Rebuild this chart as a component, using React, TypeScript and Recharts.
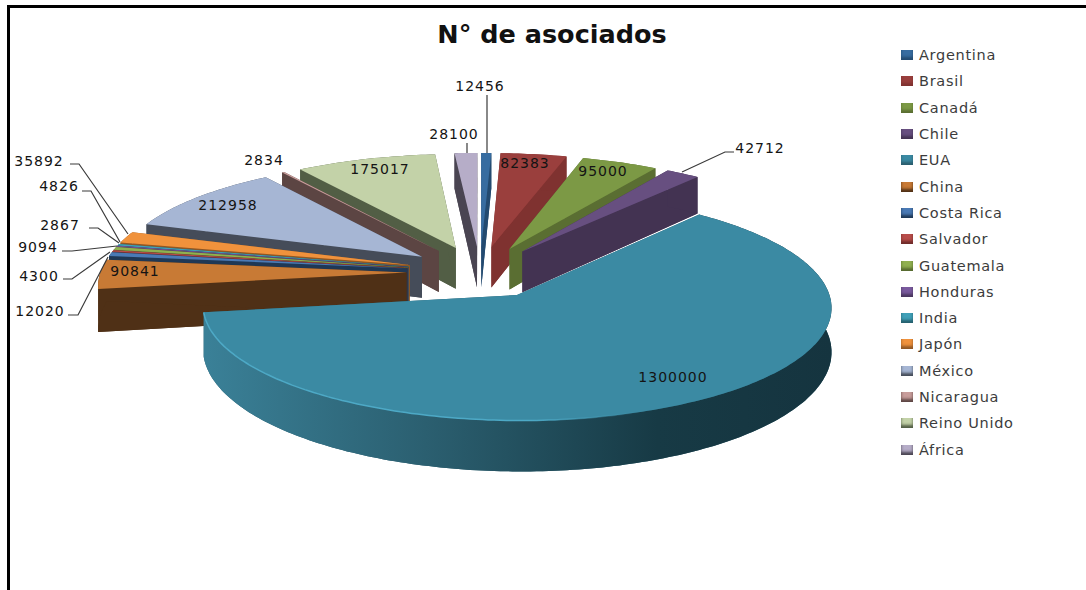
import React from 'react';
import { PieChart, Pie, Legend } from 'recharts';

const FONT = '"DejaVu Sans", sans-serif';

const countries = ['Argentina', 'Brasil', 'Canadá', 'Chile', 'EUA', 'China', 'Costa Rica', 'Salvador', 'Guatemala', 'Honduras', 'India', 'Japón', 'México', 'Nicaragua', 'Reino Unido', 'África'];
const members = [12456, 82383, 95000, 42712, 1300000, 90841, 12020, 4300, 9094, 2867, 4826, 35892, 212958, 2834, 175017, 28100];
const topColors = ['#376ca0', '#9a3f3d', '#7c9945', '#674f80', '#3b8aa3', '#c87a35', '#4a7ab5', '#b84d4a', '#90b050', '#7a5a9e', '#40a0b8', '#f0923c', '#a6b6d4', '#c89d9b', '#c3d2a8', '#b6adc8'];
const sideColors = ['#234a70', '#7f3230', '#5a6e32', '#433352', '#2b5e6e', '#4f3016', '#1f3855', '#6e2c2a', '#55692f', '#49365e', '#26606e', '#8f5724', '#454c59', '#5c4543', '#525e45', '#4a4552'];

const chartData = countries.map((name, i) => ({ name, value: members[i], fill: topColors[i] }));

// back slices first, the big front slice last
const drawOrder = [0, 1, 2, 3, 15, 14, 13, 12, 11, 10, 9, 8, 7, 6, 5, 4];
const EUA = 4;

// projection of the tilted pie
const CX = 480;
const CY = 272;
const RX = 306;
const RY = 108;
const PERSP = 0.1;
const EXPLODE = 0.24;
const DEPTH = 42;

const project = (cx: number, cy: number, u: number, v: number, drop = 0) => {
  const s = 1 / (1 - PERSP * v);
  return [cx + RX * u * s, cy + RY * v * s + drop * Math.pow(s, 1.5)];
};

const pathOf = (pts: number[][], close = true) =>
  'M' + pts.map((p) => `${p[0].toFixed(1)},${p[1].toFixed(1)}`).join('L') + (close ? 'Z' : '');

const Slice3D = (props: any) => {
  const { cx, cy, startAngle, endAngle, index } = props;
  const rad = (a: number) => (a * Math.PI) / 180;
  const mid = rad((startAngle + endAngle) / 2);
  const ou = EXPLODE * Math.cos(mid);
  const ov = -EXPLODE * Math.sin(mid);
  const rim: number[][] = [];
  const steps = Math.max(2, Math.ceil(Math.abs(endAngle - startAngle)));
  for (let i = 0; i <= steps; i++) {
    const a = rad(startAngle + ((endAngle - startAngle) * i) / steps);
    rim.push([ou + Math.cos(a), ov - Math.sin(a)]);
  }
  const topRim = rim.map((p) => project(cx, cy, p[0], p[1]));
  const lowRim = rim.map((p) => project(cx, cy, p[0], p[1], DEPTH));
  const apexTop = project(cx, cy, ou, ov);
  const apexLow = project(cx, cy, ou, ov, DEPTH);
  const side = sideColors[index];
  const wallA = [apexTop, topRim[0], lowRim[0], apexLow];
  const wallB = [apexTop, topRim[steps], lowRim[steps], apexLow];
  const outer = [...topRim, ...[...lowRim].reverse()];
  const isBig = index === EUA;
  return (
    <g>
      {isBig && (
        <defs>
          <linearGradient id="euaSide" gradientUnits="userSpaceOnUse" x1="207" y1="0" x2="832" y2="0">
            <stop offset="0" stopColor="#3a8097" />
            <stop offset="0.35" stopColor="#2b5f70" />
            <stop offset="0.72" stopColor="#173a45" />
            <stop offset="1" stopColor="#15343f" />
          </linearGradient>
          <linearGradient id="euaRim" gradientUnits="userSpaceOnUse" x1="207" y1="0" x2="640" y2="0">
            <stop offset="0" stopColor="#4da9c6" />
            <stop offset="0.75" stopColor="#4da9c6" />
            <stop offset="1" stopColor="#4da9c6" stopOpacity={0} />
          </linearGradient>
        </defs>
      )}
      <path d={pathOf([apexLow, ...lowRim])} fill={side} />
      <path d={pathOf(wallA)} fill={side} />
      <path d={pathOf(wallB)} fill={side} />
      <path d={pathOf(outer)} fill={isBig ? 'url(#euaSide)' : side} />
      <path d={pathOf([apexTop, ...topRim])} fill={topColors[index]} />
      {isBig && <path d={pathOf(topRim.slice(60), false)} fill="none" stroke="url(#euaRim)" strokeWidth={1.5} />}
    </g>
  );
};

const onlySlice = (idx: number) => (props: any) =>
  props.index === idx ? <Slice3D {...props} /> : <g />;

// where each value label sits, with its leader line when it has one
const labelSpots: { x: number; y: number; line?: number[][] }[] = [
  { x: 480, y: 86, line: [[487, 95], [487, 153]] },
  { x: 525, y: 163 },
  { x: 603, y: 171 },
  { x: 760, y: 148, line: [[682, 172], [725, 152], [734, 152]] },
  { x: 673, y: 377 },
  { x: 135, y: 271 },
  { x: 40, y: 311, line: [[68, 315], [78, 315], [108, 257]] },
  { x: 39, y: 276, line: [[63, 279], [72, 279], [110, 252]] },
  { x: 38, y: 247, line: [[62, 251], [72, 251], [117, 246]] },
  { x: 60, y: 225, line: [[89, 228], [98, 228], [119, 243]] },
  { x: 59, y: 186, line: [[82, 191], [91, 191], [120, 242]] },
  { x: 39, y: 161, line: [[70, 164], [79, 164], [128, 234]] },
  { x: 228, y: 205 },
  { x: 264, y: 160 },
  { x: 380, y: 169 },
  { x: 454, y: 134, line: [[467, 143], [467, 153]] },
];

const renderValueLabel = (props: any) => {
  const spot = labelSpots[props.index];
  return (
    <g>
      {spot.line && <polyline points={spot.line.map((p) => p.join(',')).join(' ')} fill="none" stroke="#3a3a3a" strokeWidth={1.2} />}
      <text x={spot.x} y={spot.y} textAnchor="middle" dominantBaseline="central" fontFamily={FONT} fontSize={14} letterSpacing={1} fill="#141414">
        {members[props.index]}
      </text>
    </g>
  );
};

const LegendList = () => (
  <div>
    {countries.map((name, i) => (
      <div key={name} style={{ height: 26.3, display: 'flex', alignItems: 'center', fontFamily: FONT, fontSize: 14.5, letterSpacing: 0.7, color: '#3c3c3c', whiteSpace: 'nowrap' }}>
        <span style={{ width: 12, height: 10, marginRight: 6, flex: 'none', background: topColors[i], boxShadow: `inset 0 -3px 3px ${sideColors[i]}` }} />
        {name}
      </div>
    ))}
  </div>
);

const App = () => (
  <div style={{ position: 'absolute', left: 0, top: 0, width: 1086, height: 590, overflow: 'hidden', background: '#fff' }}>
    <div style={{ position: 'absolute', left: 7, top: 5, right: 0, height: 3, background: '#000' }} />
    <div style={{ position: 'absolute', left: 7, top: 5, bottom: 0, width: 3, background: '#000' }} />
    <PieChart width={1086} height={590} margin={{ top: 0, right: 0, bottom: 0, left: 0 }}>
      {drawOrder.map((idx) => (
        <Pie
          key={idx}
          data={chartData}
          dataKey="value"
          nameKey="name"
          cx={CX}
          cy={CY}
          outerRadius={RX}
          startAngle={90}
          endAngle={-270}
          stroke="none"
          legendType="none"
          shape={onlySlice(idx)}
          isAnimationActive={false}
        />
      ))}
      <Pie
        data={chartData}
        dataKey="value"
        nameKey="name"
        cx={CX}
        cy={CY}
        outerRadius={RX}
        startAngle={90}
        endAngle={-270}
        stroke="none"
        shape={() => <g />}
        label={renderValueLabel}
        labelLine={false}
        isAnimationActive={false}
      />
      <Legend
        layout="vertical"
        align="right"
        verticalAlign="top"
        content={<LegendList />}
        wrapperStyle={{ left: 901, top: 42, width: 170 }}
      />
      <text x={552} y={34} textAnchor="middle" dominantBaseline="central" fontFamily={FONT} fontSize={25.5} fontWeight={700} fill="#111">
        N° de asociados
      </text>
    </PieChart>
  </div>
);

export default App;
